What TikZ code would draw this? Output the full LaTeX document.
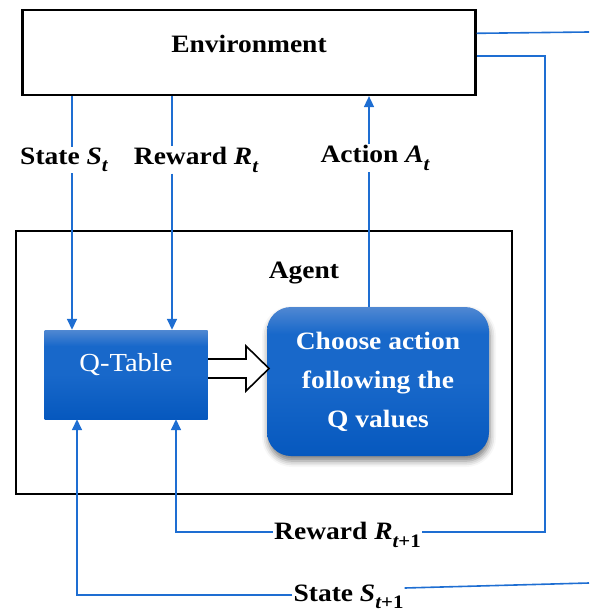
\documentclass[tikz,border=0pt]{standalone}
\usepackage{fontspec}
\setmainfont{Liberation Serif}[FakeStretch=1.1]
\usetikzlibrary{arrows.meta,calc,shadows.blur}

\definecolor{linkblue}{RGB}{30,110,210}
\definecolor{boxtop}{RGB}{80,136,210}
\definecolor{boxmid}{RGB}{24,104,202}
\definecolor{boxbot}{RGB}{6,88,190}

% vertical fill: light strip at the top, saturated blue below
\pgfdeclareverticalshading{bluebox}{100bp}{%
  color(0bp)=(boxbot); color(25bp)=(boxbot); color(50bp)=(boxmid);
  color(66bp)=(boxmid); color(75bp)=(boxtop); color(100bp)=(boxtop)}

% italic subscript index set at a fixed reduced size
\newcommand\subidx[1]{\raisebox{-0.3em}{\fontsize{19}{22}\selectfont\itshape #1}}

\tikzset{
  lbl/.style={font=\fontsize{25}{30}\selectfont\bfseries, inner sep=1pt},
  envbox/.style={draw=black, line width=2.2pt, minimum width=453pt, minimum height=85pt, inner sep=0pt},
  agentbox/.style={draw=black, line width=1.8pt, minimum width=496pt, minimum height=263pt, inner sep=0pt},
  bluefill/.style={shade, shading=bluebox},
  qbox/.style={rectangle, bluefill, minimum width=163pt, minimum height=89pt, inner sep=0pt},
  choosebox/.style={rectangle, rounded corners=24pt, bluefill,
               minimum width=222pt, minimum height=149pt, inner sep=0pt, text=white, align=center,
               font=\fontsize{25}{39}\selectfont\bfseries,
               blur shadow={shadow xshift=1pt, shadow yshift=-5pt, shadow blur radius=6pt, shadow opacity=50}},
  wire/.style={draw=linkblue, line width=1.6pt},
  tip/.style={-{Triangle[length=11pt,width=10pt]}},
}

\begin{document}
\begin{tikzpicture}[x=1pt, y=-1pt]
\useasboundingbox (0,0) rectangle (589,612);

% main blocks
\node[envbox] (env) at (249,52.5) {};
\node[lbl] (envlbl) at (249,44) {Environment};
\node[agentbox] (agent) at (264,362.5) {};
\node[lbl] (agentlbl) at (304,273) {Agent};
\node[qbox] (qt) at (126,374.5) {};
\node[font=\fontsize{26}{30}\selectfont, text=white, inner sep=1pt] (qtlbl) at (126,365) {Q-Table};
\node[choosebox] (choose) at (378,381.5) {Choose action\\following the\\Q values};

% hollow block arrow from the Q-table to the decision box
\filldraw[draw=black, fill=white, line width=1.6pt, line join=miter]
  (208,359) -- (246,359) -- (246,346) -- (269,368.5) -- (246,391) -- (246,378) -- (208,378);

% signal labels
\node[lbl] (lblS) at (64,160) {State {\itshape S}\subidx{t}};
\node[lbl] (lblR) at (196,160) {Reward {\itshape R}\subidx{t}};
\node[lbl] (lblA) at (375,158) {Action {\itshape A}\subidx{t}};
\node[lbl] (lblR1) at (347.5,535) {Reward {\itshape R}\subidx{t\upshape+1}};
\node[lbl] (lblS1) at (348.5,597) {State {\itshape S}\subidx{t\upshape+1}};

% guide coordinates for the wires
\coordinate (sx) at (72,0);
\coordinate (rx) at (172,0);
\coordinate (ax) at (369,0);
\coordinate (sx2) at (77,0);
\coordinate (rx2) at (176,0);
\coordinate (e1) at ($(env.north east)!0.28!(env.south east)$);
\coordinate (e2) at ($(env.north east)!0.54!(env.south east)$);
\coordinate (outA) at (589,32);
\coordinate (outB) at (589,583);
\coordinate (rr) at (545,532);
\coordinate (srow) at (0,595);
\coordinate (srowR) at (0,588);

% state and reward at time t
\draw[wire] (env.south -| sx) -- (lblS.north -| sx);
\draw[wire, tip] (lblS.south -| sx) -- (qt.north -| sx);
\draw[wire] (env.south -| rx) -- (lblR.north -| rx);
\draw[wire, tip] (lblR.south -| rx) -- (qt.north -| rx);

% action back to the environment
\draw[wire] (choose.north -| ax) -- (lblA.south -| ax);
\draw[wire, tip] (lblA.north -| ax) -- (env.south -| ax);

% next state leaves the environment
\draw[wire] (e1) -- (outA);
\draw[wire] (outB) -- (lblS1.east |- srowR);
\draw[wire, tip] (lblS1.west |- srow) -| (qt.south -| sx2);

% next reward loops back to the Q-table
\draw[wire] (e2) -| (rr) -- (lblR1.east |- rr);
\draw[wire, tip] (lblR1.west |- rr) -| (qt.south -| rx2);
\end{tikzpicture}
\end{document}
